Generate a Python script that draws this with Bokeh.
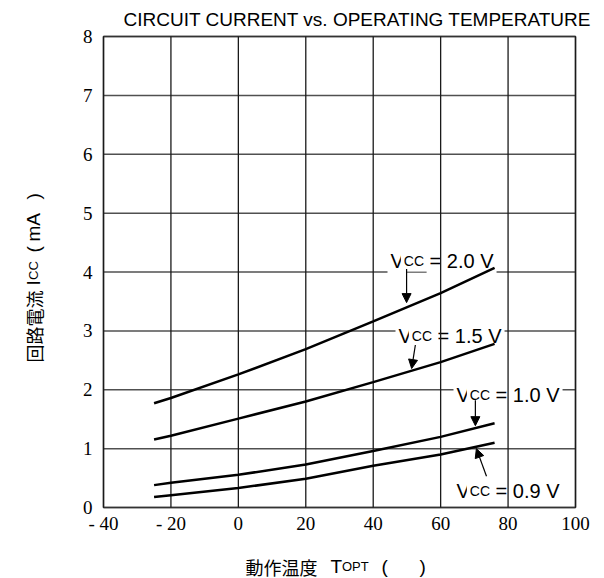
import math
from bokeh.plotting import figure
from bokeh.models import Label, Arrow, NormalHead, Range1d
from bokeh.embed import file_html
from bokeh.resources import INLINE

# ---------------- data ----------------
temps = [-25, -20, 0, 20, 40, 60, 76]
icc_20 = [1.77, 1.86, 2.26, 2.69, 3.16, 3.64, 4.07]
icc_15 = [1.155, 1.22, 1.51, 1.80, 2.13, 2.47, 2.78]
icc_10 = [0.38, 0.42, 0.555, 0.73, 0.96, 1.20, 1.43]
icc_09 = [0.18, 0.21, 0.33, 0.49, 0.71, 0.90, 1.10]

x_ticks = [-40, -20, 0, 20, 40, 60, 80, 100]
x_tick_labels = ["- 40", "- 20", "0", "20", "40", "60", "80", "100"]
y_ticks = [0, 1, 2, 3, 4, 5, 6, 7, 8]
y_tick_labels = ["0", "1", "2", "3", "4", "5", "6", "7", "8"]

vcc_values = ["2.0", "1.5", "1.0", "0.9"]
# arrows (data units): start -> tip
arrow_x_start = [49.9, 52.5, 70.3, 73.6]
arrow_y_start = [4.05, 2.76, 1.82, 0.53]
arrow_x_end = [49.9, 51.4, 70.3, 70.6]
arrow_y_end = [3.48, 2.36, 1.39, 1.00]

title_text = "CIRCUIT CURRENT vs. OPERATING TEMPERATURE"

# ---------------- layout ----------------
W, H = 604, 578
FL, FR, FT, FB = 103, 575, 36, 507      # plot box in canvas px
XMIN, XMAX, YMIN, YMAX = -40, 100, 0, 8
KX = (FR - FL) / (XMAX - XMIN)
KY = (FB - FT) / (YMAX - YMIN)


def dx(px):
    return XMIN + (px - FL) / KX


def dy(py):
    return YMIN + (FB - py) / KY


LAT = "Liberation Sans"
CJK = "Noto Sans CJK JP"
WID = {' ': 278, '=': 584, '.': 278, 'V': 667, 'C': 722, 'I': 278, '(': 333,
       ')': 333, 'm': 833, 'A': 667, 'T': 611, 'O': 778, 'P': 667}
for d in "0123456789":
    WID[d] = 556


def tw(s, size):
    return sum(WID.get(ch, 1000) for ch in s) * size / 1000.0


p = figure(width=W, height=H, output_backend="svg", toolbar_location=None,
           x_range=Range1d(dx(0), dx(W)), y_range=Range1d(dy(H), dy(0)),
           x_axis_location=None, y_axis_location=None, min_border=0,
           background_fill_color="white", border_fill_color="white")
p.outline_line_color = None
p.xgrid.visible = False
p.ygrid.visible = False

# horizontal grid lines
p.segment(x0=[XMIN] * len(y_ticks), x1=[XMAX] * len(y_ticks), y0=y_ticks, y1=y_ticks,
          line_color="#505050", line_width=1.5)
# plot box
p.quad(left=[XMIN], right=[XMAX], bottom=[YMIN], top=[YMAX], fill_color=None,
       line_color="#333333", line_width=1.5)

# vertical grid lines on top of the label boxes
vg = p.segment(x0=x_ticks, x1=x_ticks, y0=[YMIN] * len(x_ticks), y1=[YMAX] * len(x_ticks),
               line_color="#1a1a1a", line_width=1.3)
vg.level = "overlay"

# curves (above label boxes too)
for series in (icc_20, icc_15, icc_10, icc_09):
    r = p.line(temps, series, line_color="black", line_width=2.5)
    r.level = "overlay"

# tick labels
p.text(x=x_ticks, y=[dy(523)] * len(x_ticks), text=x_tick_labels,
       text_font=LAT, text_font_size="19px", text_color="black",
       text_align="center", text_baseline="middle")
p.text(x=[dx(92)] * len(y_ticks), y=y_ticks, text=y_tick_labels,
       text_font=LAT, text_font_size="19px", text_color="black",
       text_align="right", text_baseline="middle")


def add_segments(x, y, segs, angle=0.0, bg=None):
    """segs: list of (text, size, font, offset_px)"""
    for text, size, font, off in segs:
        lead = len(text) - len(text.lstrip(' '))
        off2 = off + tw(' ' * lead, size)
        t = text.strip(' ')
        kw = dict(x=x, y=y, text=t, text_font=font, text_font_size=f"{size}px",
                  text_color="black", text_baseline="alphabetic", text_align="left",
                  angle=angle)
        if angle == 0:
            kw["x_offset"] = off2
        else:
            kw["y_offset"] = off2
        if bg is not None:
            kw["background_fill_color"] = bg
            kw["padding"] = 3
        p.add_layout(Label(**kw))


def auto_segments(parts):
    segs, off = [], 0.0
    for text, size, font in parts:
        segs.append((text, size, font, off))
        off += tw(text, size)
    return segs


# Vcc labels (canvas px: left, baseline)
label_pos = [(387, 260), (395, 335), (453, 394), (453, 490)]
for v, (lx, by) in zip(vcc_values, label_pos):
    parts = [("V", 20, LAT), ("CC", 14, LAT), (" = " + v + " V", 20, LAT)]
    add_segments(dx(lx), dy(by), auto_segments(parts), bg="white")

for xs, ys, xe, ye in zip(arrow_x_start, arrow_y_start, arrow_x_end, arrow_y_end):
    p.add_layout(Arrow(end=NormalHead(size=9, fill_color="black", line_color="black",
                                      line_width=1),
                       x_start=xs, y_start=ys, x_end=xe, y_end=ye,
                       line_color="black", line_width=1.2))

# title
p.add_layout(Label(x=dx(591), y=dy(19), text=title_text, text_font=LAT,
                   text_font_size="19px", text_color="black",
                   text_align="right", text_baseline="alphabetic"))

# y axis label (rotated)
add_segments(dx(33), dy(362), [
    ("回路電流", 18, CJK, 0),
    ("I", 19, LAT, 77),
    ("CC", 13, LAT, 82.5),
    ("(", 19, LAT, 110),
    ("mA", 19, LAT, 121),
    (")", 19, LAT, 163),
], angle=math.pi / 2)

# x axis label
add_segments(dx(245), dy(566), [
    ("動作温度", 18, CJK, 0),
    ("T", 19, LAT, 85),
    ("OPT", 13, LAT, 96.5),
    ("(", 19, LAT, 136),
    (")", 19, LAT, 174),
])

open("out.html", "w").write(file_html(p, INLINE))
